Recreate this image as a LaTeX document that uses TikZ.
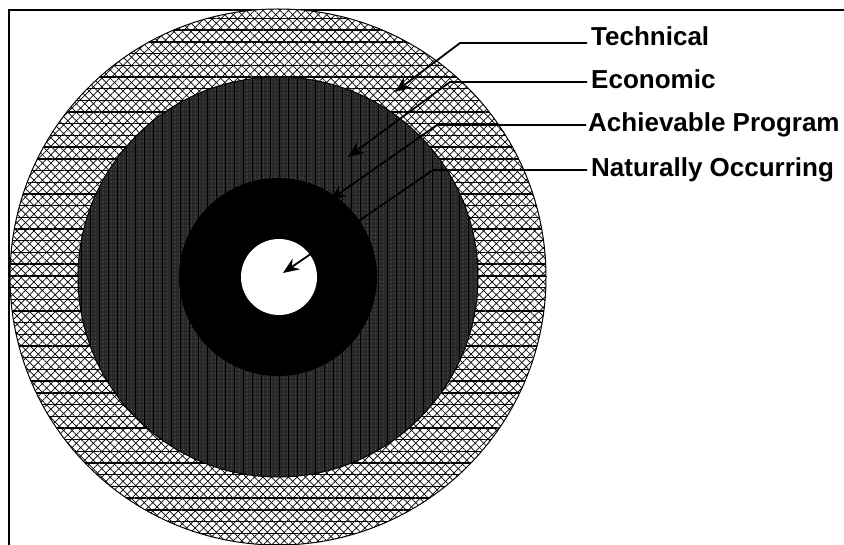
\documentclass[tikz,border=0pt]{standalone}
\usepackage{fontspec}
\setmainfont{Liberation Sans}
\usepackage{tikz}
\usetikzlibrary{arrows.meta,patterns.meta,calc}

\begin{document}
\begin{tikzpicture}[
    x=1pt, y=-1pt,
    ring/.style={draw=black, line width=1pt},
    lbl/.style={anchor=west, inner sep=0pt, text height=19pt, text depth=5pt, font=\bfseries\fontsize{26}{30}\selectfont},
    arrow/.style={->, >={Stealth[length=16pt,width=13pt]}, line width=1.8pt}
]
\useasboundingbox (0,0) rectangle (844,545);

% frame
\draw[line width=1.5pt] (844,10) -- (9,10) -- (9,545);

% Technical (outer ring)
\coordinate (ctr) at (278,277);
\fill[white] (ctr) circle[radius=268pt];
\fill[pattern={Lines[angle=45,distance=6pt,line width=0.7pt]}] (ctr) circle[radius=268pt];
\fill[pattern={Lines[angle=-45,distance=6pt,line width=0.7pt]}] (ctr) circle[radius=268pt];
\fill[pattern={Lines[angle=0,distance=11.7pt,line width=1.4pt]}] (ctr) circle[radius=268pt];
\draw[ring] (ctr) circle[radius=268pt];

% Economic
\fill[black!84] (ctr) circle[radius=200pt];
\fill[pattern={Dots[distance=4pt,radius=0.5pt]}, pattern color=black!50] (ctr) circle[radius=200pt];
\fill[pattern={Lines[angle=90,distance=9pt,line width=0.8pt]}, pattern color=black] (ctr) circle[radius=200pt];
\draw[ring] (ctr) circle[radius=200pt];

% Achievable Program
\fill[black] (ctr) circle[radius=99pt];

% Naturally Occurring
\fill[white] ($(ctr)+(1,0)$) circle[radius=38pt];

% labels
\node[lbl] (tech) at (591,39) {Technical};
\node[lbl] (econ) at (591,82) {Economic};
\node[lbl] (achv) at (588,125) {Achievable Program};
\node[lbl] (natural) at (591,170) {Naturally Occurring};

\coordinate (techtip) at (395,92);
\coordinate (econtip) at (348,157);
\coordinate (achvtip) at (330,200);
\coordinate (naturaltip) at (283,273);

\draw[arrow] ([xshift=-4pt,yshift=-4pt]tech.west) -- ++(-127,0) -- (techtip);
\draw[arrow] ([xshift=-4pt]econ.west) -- ++(-137,0) -- (econtip);
\draw[arrow] ([xshift=-2pt]achv.west) -- ++(-149,0) -- (achvtip);
\draw[arrow] ([xshift=-4pt]natural.west) -- ++(-154,0) -- (naturaltip);

\end{tikzpicture}
\end{document}
